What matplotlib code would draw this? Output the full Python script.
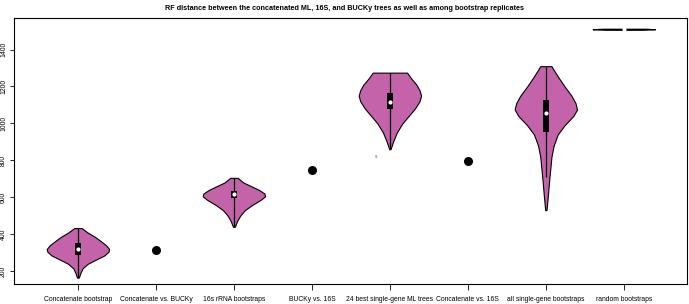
import matplotlib.pyplot as plt
import numpy as np

plt.rcParams["font.family"] = ["Liberation Sans", "DejaVu Sans"]

categories = [
    "Concatenate bootstrap",
    "Concatenate vs. BUCKy",
    "16s rRNA bootstraps",
    "BUCKy vs. 16S",
    "24 best single-gene ML trees",
    "Concatenate vs. 16S",
    "all single-gene bootstraps",
    "random bootstraps",
]

# violins: density profile (value, relative width)
concat_boot_y = [165, 190, 215, 240, 260, 285, 305, 320, 340, 360, 385, 410, 433]
concat_boot_w = [0.03, 0.08, 0.15, 0.32, 0.55, 0.85, 0.98, 1.0, 0.9, 0.75, 0.55, 0.3, 0.12]
rrna_boot_y = [440, 470, 500, 530, 560, 585, 605, 620, 640, 660, 680, 705]
rrna_boot_w = [0.03, 0.1, 0.2, 0.35, 0.6, 0.85, 1.0, 0.98, 0.8, 0.55, 0.3, 0.12]
best24_y = [860, 900, 950, 1000, 1040, 1080, 1120, 1150, 1180, 1210, 1240, 1275]
best24_w = [0.02, 0.1, 0.22, 0.4, 0.6, 0.8, 0.95, 1.0, 0.95, 0.85, 0.7, 0.55]
single_boot_y = [530, 600, 680, 750, 820, 880, 940, 990, 1040, 1075, 1110, 1150, 1200, 1250, 1290, 1310]
single_boot_w = [0.02, 0.06, 0.1, 0.14, 0.18, 0.25, 0.38, 0.6, 0.88, 1.0, 0.95, 0.82, 0.6, 0.4, 0.25, 0.18]
random_boot_y = [1507, 1510, 1513]
random_boot_w = [0.6, 1.0, 0.7]

violin_pos = [1, 3, 5, 7, 8]
violin_y = [concat_boot_y, rrna_boot_y, best24_y, single_boot_y, random_boot_y]
violin_w = [concat_boot_w, rrna_boot_w, best24_w, single_boot_w, random_boot_w]
medians = [319, 615, 1118, 1056, 1510]
q1 = [288, 597, 1080, 956, 1508]
q3 = [352, 632, 1165, 1128, 1512]
whisk_lo = [165, 440, 860, 710, 1507]
whisk_hi = [433, 705, 1275, 1307, 1513]

# single comparisons
point_pos = [2, 4, 6]
point_val = [314, 745, 795]

fill = "#c462aa"

fig = plt.figure(figsize=(6.89, 3.04), dpi=100)
ax = fig.add_axes([0.0203, 0.0658, 0.9768, 0.875])

stats = []
for ys, ws, med in zip(violin_y, violin_w, medians):
    stats.append(dict(coords=np.array(ys, float), vals=np.array(ws, float),
                      mean=med, median=med, min=ys[0], max=ys[-1]))
parts = ax.violin(stats, positions=violin_pos, widths=0.8,
                  showmeans=False, showmedians=False, showextrema=False)
for b in parts["bodies"]:
    b.set_facecolor(fill)
    b.set_edgecolor("black")
    b.set_linewidth(0.8)
    b.set_alpha(1)

ax.vlines(violin_pos, whisk_lo, whisk_hi, color="black", lw=0.9, zorder=3)
ax.bar(violin_pos, np.array(q3) - np.array(q1), bottom=q1, width=0.07,
       color="black", zorder=4)
ax.scatter(violin_pos, medians, s=9, color="white", zorder=5, linewidths=0)

ax.scatter(point_pos, point_val, s=30, color="black", zorder=5)
ax.text(4.82, 818, "s", fontsize=3.5, color="#555555", ha="center", va="center")

ax.set_xlim(0.18, 8.81)
ax.set_ylim(130, 1571)
ax.set_xticks(range(1, 9))
ax.set_xticklabels(categories, fontsize=4.9)
ax.set_yticks([200, 400, 600, 800, 1000, 1200, 1400])
ax.set_yticklabels(["200", "400", "600", "800", "1000", "1200", "1400"],
                   fontsize=4.9, rotation=90, va="center")
ax.tick_params(axis="x", length=4, width=0.6, pad=5)
ax.tick_params(axis="y", length=3, width=0.6, pad=2)
for s in ax.spines.values():
    s.set_linewidth(0.8)

fig.suptitle("RF distance between the concatenated ML, 16S, and BUCKy trees as well as among bootstrap replicates",
             fontsize=5.2, fontweight="bold", y=0.985)

fig.savefig("out.png", dpi=100)
